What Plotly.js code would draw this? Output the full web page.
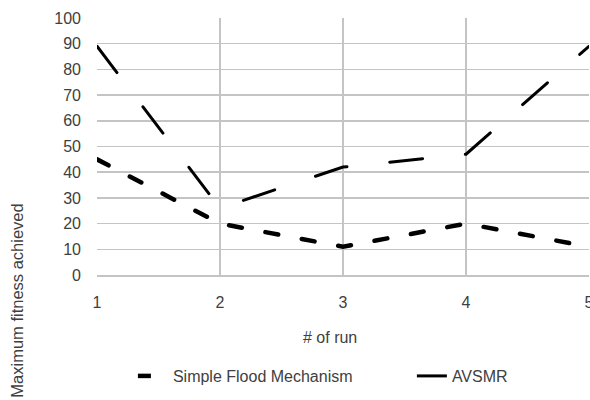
<!DOCTYPE html>
<html>
<head>
<meta charset="utf-8">
<script src="https://cdn.plot.ly/plotly-3.0.1.min.js"></script>
<style>
  html, body { margin: 0; padding: 0; background: #ffffff; }
  #chart { width: 590px; height: 400px; }
  .scatterlayer .js-line { stroke-linecap: round; }
</style>
</head>
<body>
<div id="chart"></div>
<script>
// Run numbers on the x axis
const runs = [1, 2, 3, 4, 5];
// Maximum fitness achieved per run
const simpleFlood = [45, 20, 11, 20, 11];
const avsmr = [89, 26, 42, 47, 89];
// Axis ticks
const yTicks = [0, 10, 20, 30, 40, 50, 60, 70, 80, 90, 100];
const xTicks = [1, 2, 3, 4, 5];

const FONT = 'Liberation Sans, Arial, sans-serif';
const TEXT = '#404040';
const GRID = '#c4c4c4';

const traces = [
  {
    x: runs, y: simpleFlood, name: 'Simple Flood Mechanism',
    type: 'scatter', mode: 'lines', legend: 'legend',
    line: { color: '#000000', width: 4.5, dash: '13px,24px' }
  },
  {
    x: runs, y: avsmr, name: 'AVSMR',
    type: 'scatter', mode: 'lines', legend: 'legend2',
    line: { color: '#000000', width: 3, dash: '33px,43px' }
  }
];

const legendStyle = {
  orientation: 'h', xanchor: 'left', y: -0.393, yanchor: 'middle',
  font: { family: FONT, size: 16, color: TEXT },
  bgcolor: 'rgba(0,0,0,0)'
};

const layout = {
  width: 590, height: 400,
  margin: { l: 97, r: 1, t: 18, b: 125, pad: 0 },
  paper_bgcolor: '#ffffff', plot_bgcolor: '#ffffff',
  font: { family: FONT, size: 16, color: TEXT },
  showlegend: true,
  legend: Object.assign({ x: 0.073 }, legendStyle),
  legend2: Object.assign({ x: 0.640 }, legendStyle),
  xaxis: {
    range: [1, 5], tickvals: xTicks, ticktext: xTicks.map(String),
    showgrid: true, gridcolor: GRID, gridwidth: 1.5,
    showline: true, linecolor: GRID, linewidth: 1.5,
    zeroline: false, ticks: '', ticklabelstandoff: 12,
    ticklabeloverflow: 'allow',
    fixedrange: true
  },
  yaxis: {
    range: [0, 100], tickvals: yTicks, ticktext: yTicks.map(String),
    showgrid: true, gridcolor: GRID, gridwidth: 1.5,
    showline: false, zeroline: false, ticks: '', ticklabelstandoff: 15,
    ticklabeloverflow: 'allow',
    fixedrange: true
  },
  annotations: [
    {
      text: 'Maximum fitness achieved', xref: 'paper', yref: 'paper',
      x: -0.1626, y: -0.100, textangle: -90, showarrow: false,
      xanchor: 'center', yanchor: 'middle',
      font: { family: FONT, size: 16.5, color: TEXT }
    },
    {
      text: '# of run', xref: 'paper', yref: 'paper',
      x: 0.4736, y: -0.245, showarrow: false,
      xanchor: 'center', yanchor: 'middle',
      font: { family: FONT, size: 16, color: TEXT }
    }
  ]
};

Plotly.newPlot('chart', traces, layout, { displayModeBar: false, staticPlot: true });
</script>
</body>
</html>
